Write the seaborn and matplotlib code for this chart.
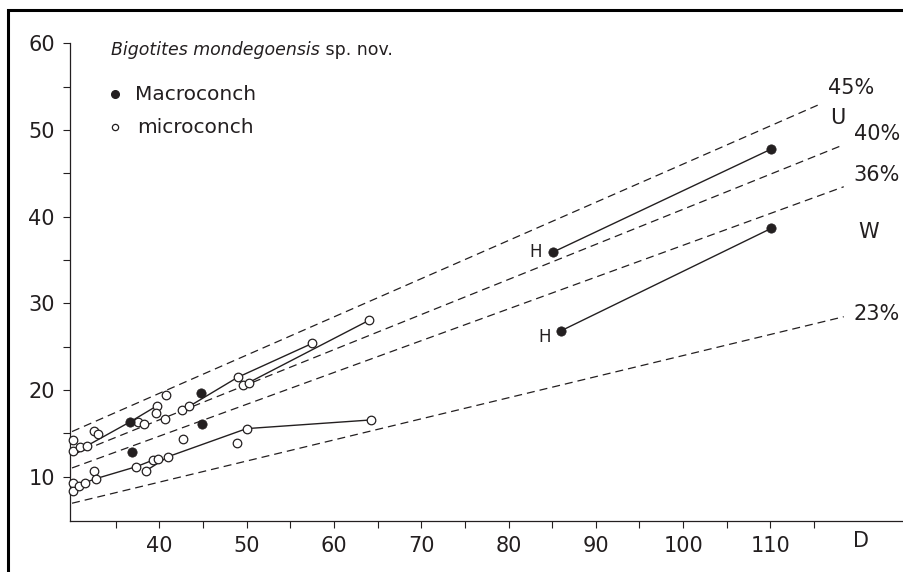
import matplotlib
matplotlib.use("Agg")
import matplotlib.pyplot as plt
import matplotlib.patches as mpatches
from matplotlib.ticker import FixedLocator
import pandas as pd
import seaborn as sns

sns.set_style("ticks")
plt.rcParams['font.family'] = ['DejaVu Sans']

INK = "#231f20"

# microconch measurements (D, H)
micro_d = [30.08, 30.15, 30.92, 31.68, 32.52, 32.94, 37.6, 38.28, 39.77, 39.62, 40.73,
           40.62, 42.57, 43.44, 42.68, 48.98, 49.62, 50.24, 48.87, 50.0, 57.53, 64.05,
           30.08, 30.08, 30.84, 31.49, 32.52, 32.75, 37.37, 38.44, 39.24, 39.89, 41.03, 64.25]
micro_h = [14.23, 12.96, 13.39, 13.54, 15.27, 14.89, 16.27, 16.04, 18.19, 17.31, 19.42,
           16.69, 17.73, 18.12, 14.31, 21.46, 20.58, 20.85, 13.85, 15.54, 25.38, 28.05,
           9.31, 8.39, 8.96, 9.31, 10.69, 9.77, 11.15, 10.66, 11.89, 12.04, 12.31, 16.54]

# macroconch measurements (D, H)
macro_d = [36.64, 36.91, 44.74, 44.93, 85.13, 110.1, 85.98, 110.1]
macro_h = [16.31, 12.81, 19.69, 16.04, 35.92, 47.8, 26.81, 38.65]

# ontogenetic series joined by solid lines
growth_d = [[31.68, 36.64, 39.77], [43.44, 48.98, 57.53], [50.24, 64.05],
            [31.49, 32.75, 37.37, 39.24], [38.44, 41.03, 50.0, 64.25],
            [85.13, 110.1], [85.98, 110.1]]
growth_h = [[13.54, 16.31, 18.19], [18.12, 21.46, 25.38], [20.85, 28.05],
            [9.31, 9.77, 11.15, 11.89], [10.66, 12.31, 15.54, 16.54],
            [35.92, 47.8], [26.81, 38.65]]

# reference ratio lines (dashed)
ratio_labels = ["45%", "40%", "36%", "23%"]
ratio_d0 = [30.0, 30.0, 30.0, 30.0]
ratio_d1 = [115.5, 118.4, 118.4, 118.4]
ratio_h0 = [15.2, 12.5, 11.0, 6.93]
ratio_h1 = [52.9, 48.3, 43.45, 28.45]
ratio_label_offset = [(33, 17), (33, 11), (33, 12), (33, 3)]

# H-labelled macroconch starts
h_marks = [(85.13, 35.92), (85.98, 26.81)]
h_offsets = [(-18, 0), (-16, -6)]

x_major = [40, 50, 60, 70, 80, 90, 100, 110]
x_minor = [35, 45, 55, 65, 75, 85, 95, 105, 115]
y_major = [10, 20, 30, 40, 50, 60]
y_minor = [15, 25, 35, 45, 55]

fig = plt.figure(figsize=(9.04, 5.72), dpi=100)
ax = fig.add_axes([70 / 904, 51 / 572, 834 / 904, 477.7 / 572])

# dashed ratio lines
for lab, d0, d1, h0, h1 in zip(ratio_labels, ratio_d0, ratio_d1, ratio_h0, ratio_h1):
    sns.lineplot(x=[d0, d1], y=[h0, h1], ax=ax, color=INK, lw=0.9,
                 linestyle=(0, (6.4, 4)), sort=False, estimator=None)

# growth lines
for gd, gh in zip(growth_d, growth_h):
    sns.lineplot(x=gd, y=gh, ax=ax, color=INK, lw=1.0, sort=False, estimator=None)

micro = pd.DataFrame({"D": micro_d, "H": micro_h})
macro = pd.DataFrame({"D": macro_d, "H": macro_h})
sns.scatterplot(data=micro, x="D", y="H", ax=ax, s=38, marker="o",
                facecolor="white", edgecolor=INK, linewidth=0.9, zorder=5, clip_on=False)
sns.scatterplot(data=macro, x="D", y="H", ax=ax, s=45, marker="o",
                color=INK, edgecolor=INK, linewidth=0.5, zorder=6, clip_on=False)

for lab, d1, h1, off in zip(ratio_labels, ratio_d1, ratio_h1, ratio_label_offset):
    ax.annotate(lab, xy=(d1, h1), xytext=off, textcoords="offset pixels",
                ha="center", va="center", fontsize=15, color=INK, annotation_clip=False)

for (d, h), off in zip(h_marks, h_offsets):
    ax.annotate("H", xy=(d, h), xytext=off, textcoords="offset pixels",
                ha="center", va="center", fontsize=12, color=INK)

ax.text(0.921, 0.8436, "U", transform=ax.transAxes, ha="center", va="center",
        fontsize=15, color=INK)
ax.text(0.957, 0.605, "W", transform=ax.transAxes, ha="center", va="center",
        fontsize=15, color=INK)
ax.text(0.949, -0.0544, "D", transform=ax.transAxes, ha="center", va="baseline",
        fontsize=15, color=INK)

# title and key
t1 = ax.text(0.049, 0.9755, "Bigotites mondegoensis", transform=ax.transAxes,
             ha="left", va="baseline", fontsize=12.5, style="italic", color=INK)
ax.annotate(" sp. nov.", xy=(1, 0), xycoords=t1, ha="left", va="bottom",
            fontsize=12.5, color=INK)
ax.plot([0.054], [0.8932], marker="o", ms=5.5, color=INK, transform=ax.transAxes,
        clip_on=False)
ax.plot([0.054], [0.8254], marker="o", ms=4.5, mfc="white", mec=INK, mew=0.9,
        transform=ax.transAxes, clip_on=False)
ax.text(0.0779, 0.8813, "Macroconch", transform=ax.transAxes, ha="left",
        va="baseline", fontsize=14.5, color=INK)
ax.text(0.080, 0.8116, "microconch", transform=ax.transAxes, ha="left",
        va="baseline", fontsize=14.5, color=INK)

ax.set_xlim(29.77, 125.3)
ax.set_ylim(4.88, 60)
ax.xaxis.set_major_locator(FixedLocator(x_major))
ax.xaxis.set_minor_locator(FixedLocator(x_minor))
ax.yaxis.set_major_locator(FixedLocator(y_major))
ax.yaxis.set_minor_locator(FixedLocator(y_minor))
ax.tick_params(which="both", direction="out", length=5, width=0.8, color=INK,
               labelsize=15, labelcolor=INK, pad=6)
ax.set_xlabel("")
ax.set_ylabel("")
sns.despine(ax=ax, top=True, right=True)
for s in ("left", "bottom"):
    ax.spines[s].set_linewidth(0.9)
    ax.spines[s].set_color(INK)

# outer frame of the figure panel
fig.patches.append(mpatches.Rectangle((8 / 904, -0.1), 1.2, 0.1 + (572 - 10) / 572,
                                      transform=fig.transFigure, fill=False,
                                      lw=2.2, edgecolor="black", clip_on=False))

fig.savefig("out.png", dpi=100)
